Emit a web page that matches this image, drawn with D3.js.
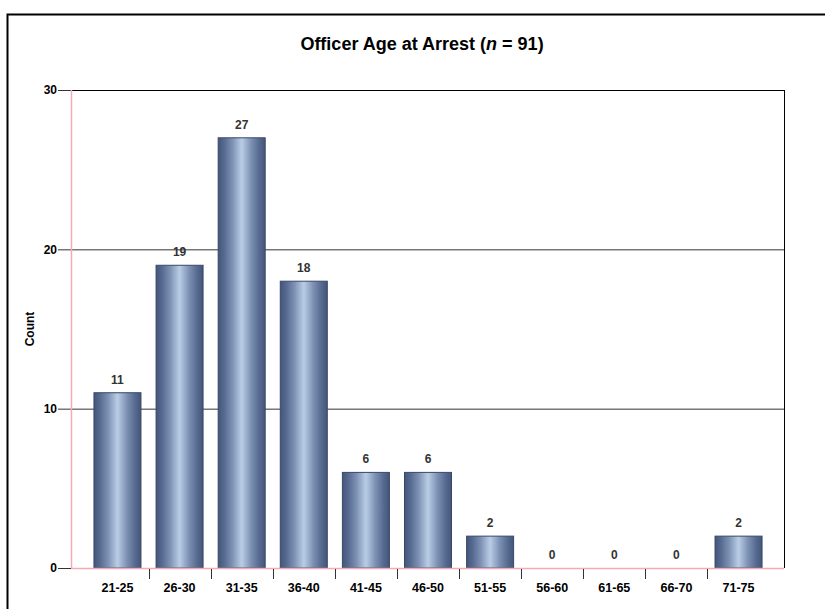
<!DOCTYPE html>
<html><head><meta charset="utf-8">
<script src="https://cdn.jsdelivr.net/npm/d3@7"></script>
<style>body{margin:0;background:#fff;}svg{display:block;font-family:"Liberation Sans",Arial,sans-serif;}</style>
</head><body>
<svg id="c" width="825" height="609"></svg>
<script>
const categories = ["21-25","26-30","31-35","36-40","41-45","46-50","51-55","56-60","61-65","66-70","71-75"];
const counts = [11,19,27,18,6,6,2,0,0,0,2];
const yTicks = [0,10,20,30];

const svg = d3.select("#c");
// outer frame
svg.append("rect").attr("x",7.5).attr("y",14.5).attr("width",830).attr("height",610)
  .attr("fill","none").attr("stroke","#000").attr("stroke-width",2);

const L=71, R=784, T=90, B=568;
const y = d3.scaleLinear().domain([0,30]).range([B,T]);
const x = d3.scaleBand().domain(categories).range([86.5,769.5]).paddingInner(0.243).paddingOuter(0.12);

const defs = svg.append("defs");
const g = defs.append("linearGradient").attr("id","bg").attr("x1","0").attr("x2","1").attr("y1","0").attr("y2","0");
[[0,"#44557a"],[0.12,"#55698f"],[0.3,"#7d91b4"],[0.5,"#bacde6"],[0.7,"#7d91b4"],[0.88,"#55698f"],[1,"#44557a"]]
  .forEach(([o,c])=>g.append("stop").attr("offset",o).attr("stop-color",c));

// title
const title = svg.append("text").attr("x",422).attr("y",50).attr("text-anchor","middle")
  .attr("font-size",18).attr("font-weight","bold").attr("fill","#000");
title.append("tspan").text("Officer Age at Arrest (");
title.append("tspan").attr("font-style","italic").text("n");
title.append("tspan").text(" = 91)");

// gridlines
svg.append("g").selectAll("line").data(yTicks.filter(d=>d>0)).join("line")
  .attr("x1",L).attr("x2",R).attr("y1",d=>y(d)+0.5).attr("y2",d=>y(d)+0.5)
  .attr("stroke",d=>d===30?"#000":"#333").attr("stroke-width",1);
// right border
svg.append("line").attr("x1",R+0.5).attr("x2",R+0.5).attr("y1",T).attr("y2",B).attr("stroke","#000");

// y axis
const yAxis = svg.append("g").attr("transform",`translate(${L},0)`)
  .call(d3.axisLeft(y).tickValues(yTicks).tickSize(13).tickPadding(1).tickFormat(d3.format("d")));
yAxis.select(".domain").remove();
yAxis.selectAll(".tick line").attr("stroke","#333");
yAxis.selectAll("text").attr("font-size",12).attr("font-weight","bold").attr("fill","#000").attr("font-family","Liberation Sans, Arial, sans-serif");

// pink axis lines
svg.append("line").attr("x1",L+0.5).attr("x2",L+0.5).attr("y1",T).attr("y2",B).attr("stroke","#f4aab4").attr("stroke-width",1.5);

// bars
svg.append("g").selectAll("rect").data(counts).join("rect")
  .attr("x",(d,i)=>x(categories[i])).attr("width",x.bandwidth())
  .attr("y",d=>y(d)).attr("height",d=>B-y(d))
  .attr("fill","url(#bg)").attr("stroke","#3a4868").attr("stroke-width",1)
  .attr("display",d=>d>0?null:"none");

svg.append("line").attr("x1",L).attr("x2",R).attr("y1",B+0.5).attr("y2",B+0.5).attr("stroke","#f4aab4").attr("stroke-width",1.5);

// value labels
svg.append("g").selectAll("text").data(counts).join("text")
  .attr("x",(d,i)=>x(categories[i])+x.bandwidth()/2).attr("y",d=>y(d)-9)
  .attr("text-anchor","middle").attr("font-size",12).attr("font-weight","bold").attr("fill","#333")
  .text(d=>d);

// x axis
const step = x.step();
const xAxis = svg.append("g").attr("transform",`translate(0,${B})`)
  .call(d3.axisBottom(x).tickSize(0).tickPadding(15));
xAxis.select(".domain").remove();
xAxis.selectAll("text").attr("font-size",12.5).attr("font-weight","bold").attr("fill","#000").attr("font-family","Liberation Sans, Arial, sans-serif");
svg.append("g").selectAll("line").data(categories.slice(1)).join("line")
  .attr("x1",d=>Math.round(x(d)-(step-x.bandwidth())/2)+0.5).attr("x2",d=>Math.round(x(d)-(step-x.bandwidth())/2)+0.5)
  .attr("y1",B+1).attr("y2",B+11).attr("stroke","#333");

// y label
svg.append("text").attr("transform","translate(34,329) rotate(-90)").attr("text-anchor","middle")
  .attr("font-size",12).attr("font-weight","bold").attr("fill","#000").text("Count");
</script>
</body></html>
